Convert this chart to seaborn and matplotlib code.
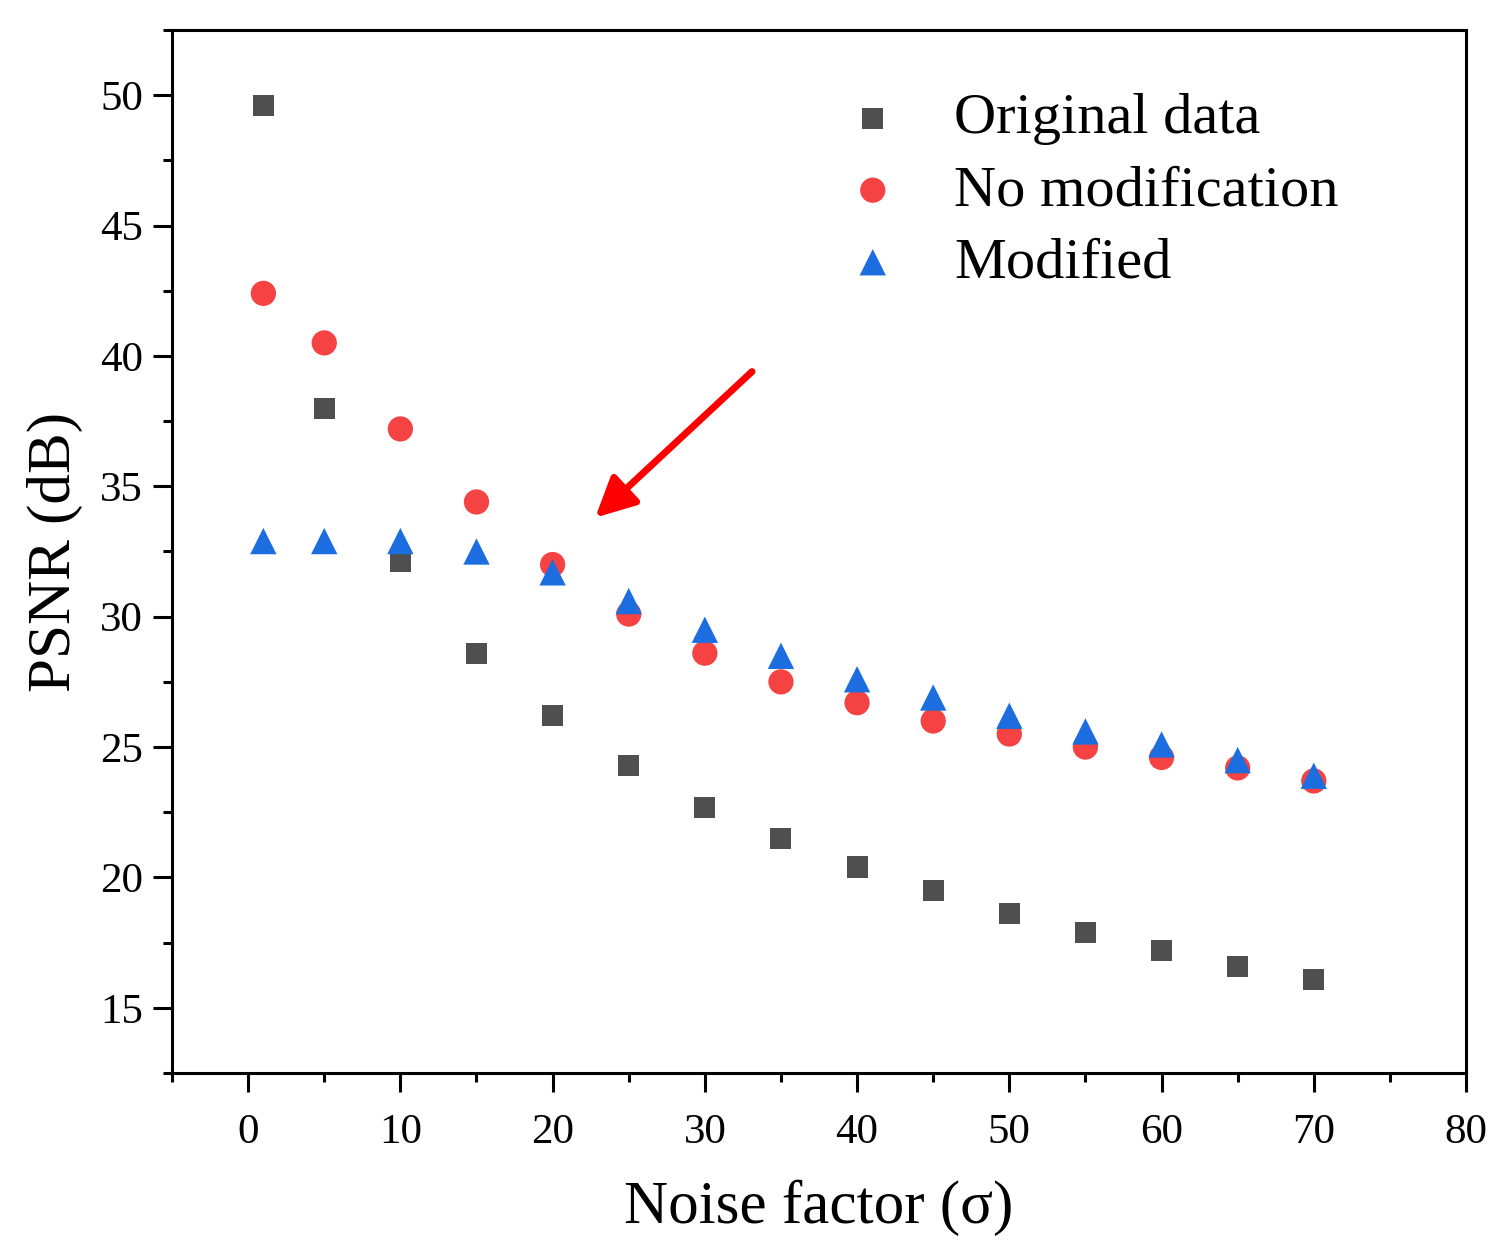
import numpy as np
import pandas as pd
import matplotlib
matplotlib.use("Agg")
import matplotlib.pyplot as plt
import seaborn as sns
from matplotlib.ticker import MultipleLocator

# dane
noise = [1, 5, 10, 15, 20, 25, 30, 35, 40, 45, 50, 55, 60, 65, 70]
original = [49.6, 38.0, 32.1, 28.6, 26.2, 24.3, 22.7, 21.5, 20.4, 19.5, 18.6, 17.9, 17.2, 16.6, 16.1]
no_modification = [42.4, 40.5, 37.2, 34.4, 32.0, 30.1, 28.6, 27.5, 26.7, 26.0, 25.5, 25.0, 24.6, 24.2, 23.7]
modified = [32.9, 32.9, 32.9, 32.5, 31.7, 30.6, 29.5, 28.5, 27.6, 26.9, 26.2, 25.6, 25.1, 24.5, 23.9]

sns.set_style("ticks")
plt.rcParams['font.family'] = ['Liberation Serif', 'DejaVu Serif']
plt.rcParams['text.color'] = 'black'
plt.rcParams['axes.labelcolor'] = 'black'
plt.rcParams['xtick.color'] = 'black'
plt.rcParams['ytick.color'] = 'black'

fig, ax = plt.subplots(figsize=(15.01, 12.5), dpi=100)
fig.subplots_adjust(left=0.1146, right=0.9767, top=0.976, bottom=0.1416)

sns.scatterplot(x=noise, y=original, marker='s', s=230, color='#4f4f4f',
                edgecolor='none', label='Original data', ax=ax, zorder=3)
sns.scatterplot(x=noise, y=no_modification, marker='o', s=330, color='#f54242',
                edgecolor='none', label='No modification', ax=ax, zorder=3)
sns.scatterplot(x=noise, y=modified, marker='^', s=360, color='#1c6ee0',
                edgecolor='none', label='Modified', ax=ax, zorder=3)

# strzalka
ax.annotate('', xy=(22.8, 33.8), xytext=(33.1, 39.4),
            arrowprops=dict(arrowstyle='-|>,head_length=0.6,head_width=0.3',
                            color='#ff0000', lw=5, mutation_scale=40,
                            shrinkA=0, shrinkB=0))

ax.set_xlim(-5, 80)
ax.set_ylim(12.5, 52.5)
ax.xaxis.set_major_locator(MultipleLocator(10))
ax.xaxis.set_minor_locator(MultipleLocator(5))
ax.yaxis.set_major_locator(MultipleLocator(5))
ax.yaxis.set_minor_locator(MultipleLocator(2.5))
ax.tick_params(which='major', direction='out', length=14, width=2.2, labelsize=31, color='black',
               labelcolor='black')
ax.tick_params(which='minor', direction='out', length=6.5, width=2.2, color='black')
ax.tick_params(axis='x', which='major', pad=15)
ax.tick_params(axis='y', which='major', pad=7)
for sp in ax.spines.values():
    sp.set_linewidth(2.2)
    sp.set_color('black')

ax.set_xlabel('Noise factor (σ)', fontsize=44, labelpad=20)
ax.set_ylabel('PSNR (dB)', fontsize=44, labelpad=12)

ax.legend(loc='upper left', bbox_to_anchor=(0.519, 0.94), frameon=False,
          fontsize=42, handlelength=1.0, handletextpad=0.9, borderpad=0,
          borderaxespad=0, labelspacing=0.33, markerscale=1.0)

plt.savefig('out.png', dpi=100)
